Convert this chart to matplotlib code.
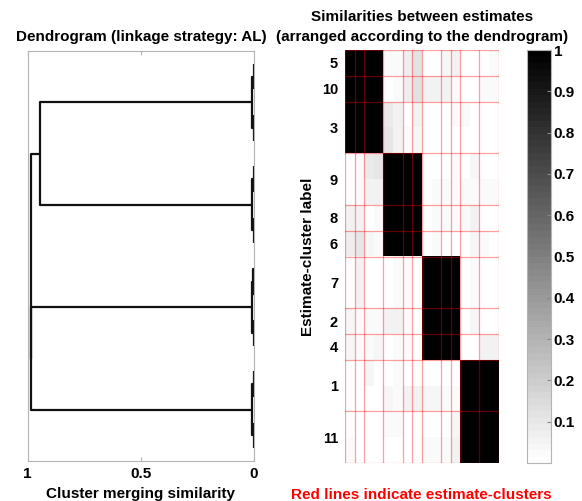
import numpy as np
import matplotlib
matplotlib.use("Agg")
import matplotlib.pyplot as plt

plt.rcParams["font.family"] = ["Liberation Sans", "DejaVu Sans"]
plt.rcParams["font.weight"] = "bold"

# cluster labels in dendrogram order, and how many estimates each holds
cluster_labels = ["5", "10", "3", "9", "8", "6", "7", "2", "4", "1", "11"]
cluster_sizes = [1, 1, 2, 2, 1, 1, 2, 1, 1, 2, 2]

# similarities between the 16 estimates (rows/cols in dendrogram order)
similarity = [
    [1, 1, 1, 1, .02, .02, .07, .12, 0, 0, .04, .05, 0, 0, 0, .03],
    [1, 1, 1, 1, .01, .02, .07, .12, .05, .05, .05, .02, 0, .01, .02, .02],
    [1, 1, 1, 1, .08, .06, 0, .05, 0, 0, .01, .02, .03, .01, 0, 0],
    [1, 1, 1, 1, .10, .06, .02, .04, 0, 0, .01, .01, .01, 0, 0, 0],
    [0, .02, .08, .10, 1, 1, 1, 1, 0, 0, .01, .02, .01, .04, .01, 0],
    [.01, .02, .06, .06, 1, 1, 1, 1, 0, .03, .02, .02, .03, .03, .03, .03],
    [.05, .05, 0, .02, 1, 1, 1, 1, .01, .02, .02, .03, .02, .06, 0, 0],
    [.07, .10, .04, .03, 1, 1, 1, 1, .01, .02, 0, .01, 0, .04, .02, 0],
    [0, .05, 0, 0, 0, .02, .02, 0, 1, 1, 1, 1, .01, .02, 0, 0],
    [.01, .05, 0, 0, 0, .03, .02, 0, 1, 1, 1, 1, .01, .02, 0, 0],
    [.04, .03, .03, .03, .05, .05, .02, 0, 1, 1, 1, 1, .01, .04, 0, 0],
    [.04, .02, .02, .04, 0, .02, .02, 0, 1, 1, 1, 1, 0, 0, .05, .06],
    [0, 0, .04, .01, 0, .03, 0, 0, 0, 0, 0, .01, 1, 1, 1, 1],
    [0, 0, 0, 0, .04, .03, .05, .05, .04, .04, .02, .02, 1, 1, 1, 1],
    [.01, 0, 0, 0, .02, .02, 0, 0, .01, .01, 0, .04, 1, 1, 1, 1],
    [.03, 0, 0, .01, .01, .01, 0, .01, .02, .02, .02, .06, 1, 1, 1, 1],
]

# dendrogram merges: (node a, node b, merging value); leaves are 0..15
dendro_merges = [
    (0, 1, 0.0), (2, 3, 0.0), (16, 17, 0.008),
    (4, 5, 0.0), (6, 7, 0.0), (19, 20, 0.008),
    (8, 9, 0.006), (10, 11, 0.0), (22, 23, 0.008),
    (12, 13, 0.0), (14, 15, 0.0), (25, 26, 0.008),
    (18, 21, 0.946), (24, 27, 0.985), (28, 29, 0.985),
]

colorbar_ticks = [0.1, 0.2, 0.3, 0.4, 0.5, 0.6, 0.7, 0.8, 0.9, 1.0]

W, H = 582, 501
fig = plt.figure(figsize=(W / 100, H / 100), dpi=100)


def px_axes(x0, y0, x1, y1):
    return fig.add_axes([x0 / W, 1 - y1 / H, (x1 - x0) / W, (y1 - y0) / H])


n_est = len(similarity)
spine_gray = "#b4b4b4"
fs = 11

# ---- dendrogram ----
ax_d = px_axes(27.7, 51, 254, 461)
ypos = {i: float(i) for i in range(n_est)}
height = {i: 0.0 for i in range(n_est)}
node = n_est
for a, b, h in dendro_merges:
    ya, yb = ypos[a], ypos[b]
    ax_d.plot([height[a], h, h, height[b]], [ya, ya, yb, yb],
              color="#111111", lw=1.6, solid_capstyle="butt")
    ypos[node] = (ya + yb) / 2
    height[node] = h
    node += 1

ax_d.set_xlim(1, 0)
ax_d.set_ylim(n_est - 0.5, -0.5)
ax_d.set_xticks([1, 0.5, 0])
ax_d.set_xticklabels(["1", "0.5", "0"])
ax_d.set_yticks([])
ax_d.tick_params(axis="x", direction="in", top=True, length=3, color=spine_gray,
                 labelsize=fs, pad=4.5)
for s in ax_d.spines.values():
    s.set_color(spine_gray)
    s.set_linewidth(0.8)
ax_d.set_title("Dendrogram (linkage strategy: AL)", fontsize=fs, fontweight="bold", pad=7.5)
ax_d.set_xlabel("Cluster merging similarity", fontsize=fs, fontweight="bold", labelpad=4)

# ---- similarity matrix ----
ax_m = px_axes(345, 50, 498.6, 463)
cmap = plt.get_cmap("gray_r", 64)
im = ax_m.imshow(np.array(similarity), cmap=cmap, vmin=0, vmax=1,
                 aspect="auto", interpolation="nearest")
bounds = np.concatenate([[0], np.cumsum(cluster_sizes)]) - 0.5
for b in bounds:
    ax_m.axhline(b, color="red", lw=0.9, alpha=0.38)
    ax_m.axvline(b, color="red", lw=0.9, alpha=0.38)
centers = (bounds[:-1] + bounds[1:]) / 2
ax_m.set_yticks(centers)
ax_m.set_yticklabels(cluster_labels)
ax_m.set_xticks([])
ax_m.tick_params(axis="y", length=0, labelsize=10.5, pad=5)
for s in ax_m.spines.values():
    s.set_visible(False)
ax_m.set_xlim(-0.5, n_est - 0.5)
ax_m.set_ylim(n_est - 0.5, -0.5)
ax_m.set_title("Similarities between estimates\n(arranged according to the dendrogram)",
               fontsize=fs, fontweight="bold", pad=6.5, linespacing=1.5)
ax_m.set_xlabel("Red lines indicate estimate-clusters", color="red",
                fontsize=fs, fontweight="bold", labelpad=18)
fig.text(308 / W, 1 - 257 / H, "Estimate-cluster label", rotation=90,
         ha="center", va="center", fontsize=fs, fontweight="bold")

# ---- colorbar ----
cax = px_axes(527, 50, 551, 463)
cb = fig.colorbar(im, cax=cax, ticks=colorbar_ticks)
cb.set_ticklabels([f"{t:g}" for t in colorbar_ticks])
cb.outline.set_edgecolor(spine_gray)
cb.outline.set_linewidth(0.8)
cax.tick_params(direction="in", length=3, color="#888888", labelsize=fs, pad=2)

fig.savefig("out.png", dpi=100)
